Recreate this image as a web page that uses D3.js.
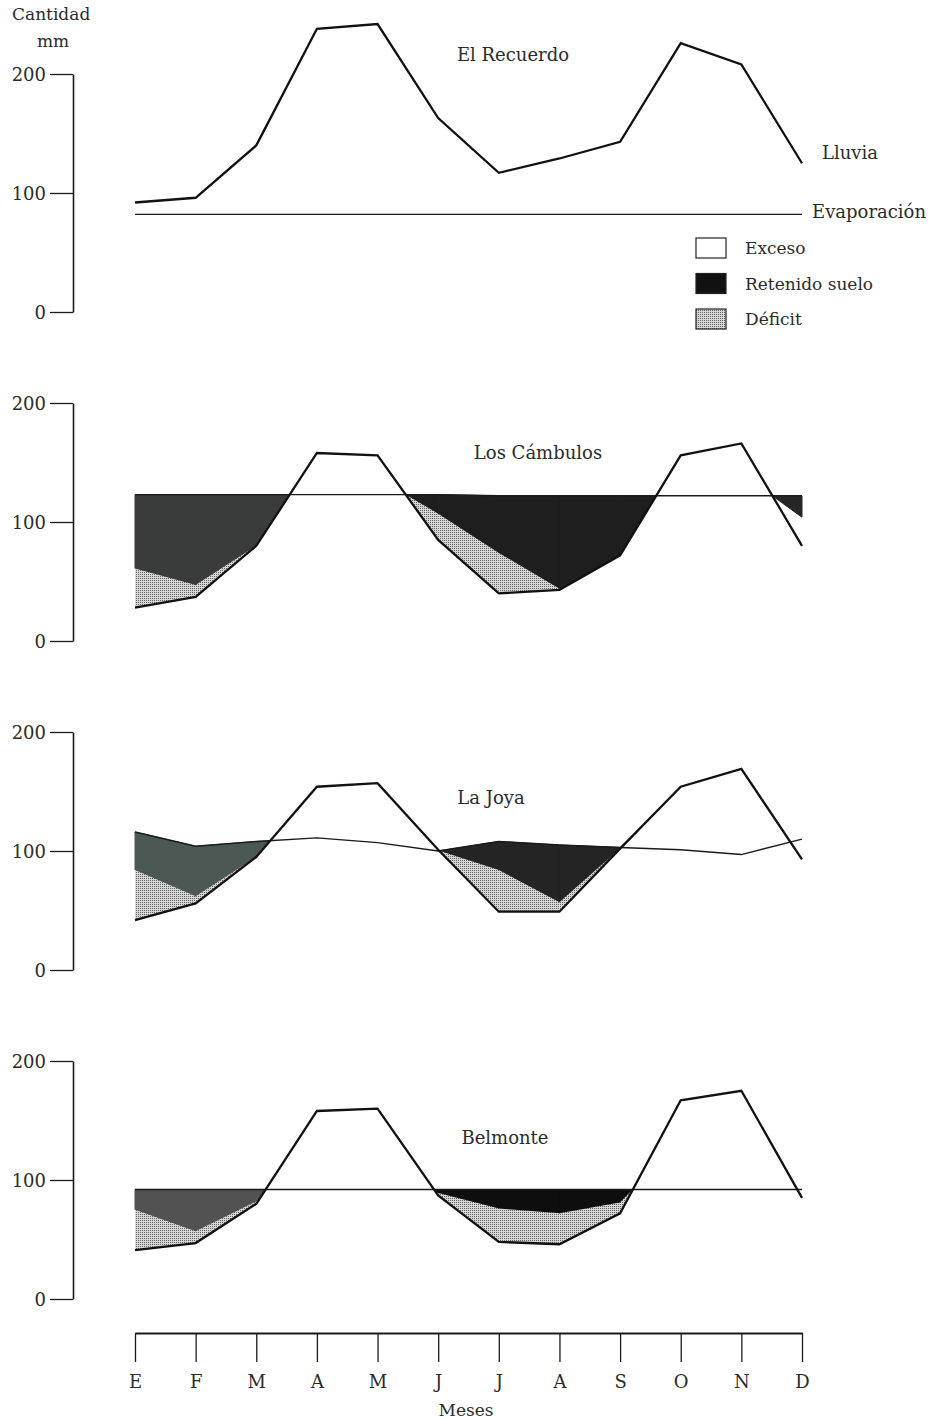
<!DOCTYPE html>
<html><head><meta charset="utf-8">
<script src="https://cdn.jsdelivr.net/npm/d3@7"></script>
<style>
body{margin:0;background:#fff;}
svg text{font-family:"DejaVu Serif",serif;fill:#2b2b2b;}
</style></head><body>
<svg id="c" width="931" height="1419"></svg>
<script>
// ---------- data ----------
const meses = ['E','F','M','A','M','J','J','A','S','O','N','D'];
const estaciones = ['El Recuerdo','Los Cámbulos','La Joya','Belmonte'];
const ticksY = [0, 100, 200];
const leyenda = ['Exceso','Retenido suelo','Déficit'];

const lluviaRecuerdo = [92, 96, 140, 238, 242, 163, 117, 129, 143, 226, 208, 125];
const evapRecuerdo   = [82, 82, 82, 82, 82, 82, 82, 82, 82, 82, 82, 82];
const sueloRecuerdo  = [null, null, null, null, null, null, null, null, null, null, null, null];
const deficitRecuerdo= [null, null, null, null, null, null, null, null, null, null, null, null];

const lluviaCambulos = [28, 37, 80, 158, 156, 85, 40, 43, 72, 156, 166, 80];
const evapCambulos   = [123, 123, 123, 123, 123, 123, 122, 122, 122, 122, 122, 122];
const sueloCambulos  = [61, 47, 80, null, null, 107, 74, 44, 72, null, null, 104];
const deficitCambulos= [28, 37, 80, null, null, 85, 40, 43, 72, null, null, null];

const lluviaJoya = [42, 56, 95, 154, 157, 101, 49, 49, 102, 154, 169, 93];
const evapJoya   = [116, 104, 108, 111, 107, 100, 108, 105, 103, 101, 97, 110];
const sueloJoya  = [84, 62, 95, null, null, null, 84, 57, 102, null, null, null];
const deficitJoya= [42, 56, 95, null, null, null, 49, 49, 102, null, null, null];

const lluviaBelmonte = [41, 47, 80, 158, 160, 87, 48, 46, 72, 167, 175, 85];
const evapBelmonte   = [92, 92, 92, 92, 92, 92, 92, 92, 92, 92, 92, 92];
const sueloBelmonte  = [75, 57, 82, null, null, 89, 76, 72, 81, null, null, null];
const deficitBelmonte= [41, 47, 80, null, null, 87, 48, 46, 72, null, null, null];

const paneles = [
  {nombre: estaciones[0], lluvia: lluviaRecuerdo, evap: evapRecuerdo, suelo: sueloRecuerdo, deficit: deficitRecuerdo},
  {nombre: estaciones[1], lluvia: lluviaCambulos, evap: evapCambulos, suelo: sueloCambulos, deficit: deficitCambulos},
  {nombre: estaciones[2], lluvia: lluviaJoya, evap: evapJoya, suelo: sueloJoya, deficit: deficitJoya},
  {nombre: estaciones[3], lluvia: lluviaBelmonte, evap: evapBelmonte, suelo: sueloBelmonte, deficit: deficitBelmonte}
];

// ---------- layout / style ----------
const bases = [312, 641, 970, 1299];
const alto200 = 238;
const titulos = [[513, 61], [538, 459], [491, 804], [505, 1144]];
const coloresOscuro = [
  ['#333', '#333', '#333'],
  ['#3a3c3b', '#1e1e1e', '#262626'],
  ['#4c5853', '#242424', '#242424'],
  ['#525252', '#0e0e0e', '#0e0e0e']
];

const svg = d3.select('#c');
const defs = svg.append('defs');
const pat = defs.append('pattern').attr('id', 'punteado').attr('patternUnits', 'userSpaceOnUse')
  .attr('width', 2).attr('height', 2);
pat.append('rect').attr('width', 2).attr('height', 2).attr('fill', '#d6d6d6');
pat.append('rect').attr('width', 1).attr('height', 1).attr('fill', '#626262');

const x = d3.scaleLinear().domain([0, 11]).range([135, 802]);

svg.append('text').attr('x', 12).attr('y', 20).attr('font-size', 17).text('Cantidad');
svg.append('text').attr('x', 53).attr('y', 47).attr('font-size', 17).attr('text-anchor', 'middle').text('mm');

function cruce(p, i) {
  const d0 = p.lluvia[i] - p.evap[i], d1 = p.lluvia[i + 1] - p.evap[i + 1];
  if (d0 * d1 >= 0) return null;
  const t = d0 / (d0 - d1);
  return [i + t, p.evap[i] + t * (p.evap[i + 1] - p.evap[i])];
}

paneles.forEach((p, k) => {
  const y = d3.scaleLinear().domain([0, 200]).range([bases[k], bases[k] - alto200]);
  const g = svg.append('g');
  const poly = pts => 'M' + pts.map(([i, v]) => x(i) + ',' + y(v)).join('L') + 'Z';

  // fills
  for (let i = 0; i < 11; i++) {
    const col = coloresOscuro[k][i < 3 ? 0 : (i >= 10 ? 2 : 1)];
    const s0 = p.suelo[i], s1 = p.suelo[i + 1];
    const f0 = p.deficit[i], f1 = p.deficit[i + 1];
    const e0 = p.evap[i], e1 = p.evap[i + 1];
    const c = cruce(p, i);
    if (s0 != null && s1 != null) {
      g.append('path').attr('d', poly([[i, e0], [i + 1, e1], [i + 1, s1], [i, s0]]))
        .attr('fill', col).attr('stroke', col).attr('stroke-width', 1);
      if (f0 != null && f1 != null)
        g.append('path').attr('d', poly([[i, s0], [i + 1, s1], [i + 1, f1], [i, f0]]))
          .attr('fill', 'url(#punteado)');
    } else if (c && (s0 != null || s1 != null)) {
      const d = s0 != null ? i : i + 1;
      g.append('path').attr('d', poly([c, [d, p.evap[d]], [d, p.suelo[d]]]))
        .attr('fill', col).attr('stroke', col).attr('stroke-width', 1);
      if (p.deficit[d] != null)
        g.append('path').attr('d', poly([c, [d, p.suelo[d]], [d, p.deficit[d]]]))
          .attr('fill', 'url(#punteado)');
    }
  }

  const linea = d3.line().x((d, i) => x(i)).y(d => y(d));
  g.append('path').datum(p.evap).attr('d', linea).attr('fill', 'none')
    .attr('stroke', '#1a1a1a').attr('stroke-width', 1.4);
  g.append('path').datum(p.lluvia).attr('d', linea).attr('fill', 'none')
    .attr('stroke', '#111').attr('stroke-width', 2.3).attr('stroke-linejoin', 'miter');

  // y axis
  const ax = g.append('g').attr('transform', 'translate(73,0)')
    .call(d3.axisLeft(y).tickValues(ticksY).tickSize(23).tickSizeOuter(0).tickPadding(4));
  ax.attr('font-family', '"DejaVu Serif",serif').attr('font-size', 18);
  ax.select('.domain').attr('stroke', '#1a1a1a').attr('stroke-width', 1.6);
  ax.selectAll('.tick line').attr('stroke', '#1a1a1a').attr('stroke-width', 1.3);
  ax.selectAll('.tick text').attr('fill', '#2b2b2b').attr('dy', '0.36em');

  g.append('text').attr('x', titulos[k][0]).attr('y', titulos[k][1])
    .attr('text-anchor', 'middle').attr('font-size', 18).text(p.nombre);
});

// labels & legend (first panel)
svg.append('text').attr('x', 822).attr('y', 159).attr('font-size', 18).text('Lluvia');
svg.append('text').attr('x', 812).attr('y', 218).attr('font-size', 18).text('Evaporación');
const lgFill = ['#fff', '#111', 'url(#punteado)'];
leyenda.forEach((t, i) => {
  const yy = 238 + i * 35.5;
  svg.append('rect').attr('x', 696).attr('y', yy).attr('width', 30).attr('height', 20)
    .attr('fill', lgFill[i]).attr('stroke', '#222').attr('stroke-width', 1.2);
  svg.append('text').attr('x', 745).attr('y', yy + 16).attr('font-size', 17).text(t);
});

// bottom month axis
const bx = svg.append('g').attr('transform', 'translate(0,1333)')
  .call(d3.axisBottom(x).tickValues(d3.range(12)).tickFormat(i => meses[i]).tickSize(29).tickSizeOuter(0).tickPadding(13));
bx.attr('font-family', '"DejaVu Serif",serif').attr('font-size', 18);
bx.select('.domain').attr('stroke', '#1a1a1a').attr('stroke-width', 2);
bx.selectAll('.tick line').attr('stroke', '#1a1a1a').attr('stroke-width', 1.3);
bx.selectAll('.tick text').attr('fill', '#2b2b2b');
svg.append('text').attr('x', 466).attr('y', 1416).attr('text-anchor', 'middle').attr('font-size', 17).text('Meses');
</script>
</body></html>
